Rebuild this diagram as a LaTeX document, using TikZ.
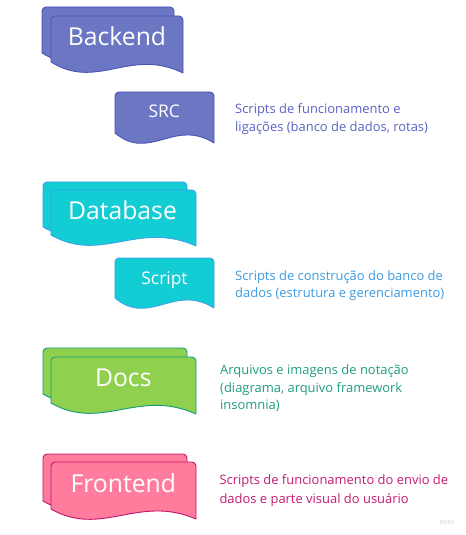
\documentclass[tikz,border=0pt]{standalone}
\usepackage{fontspec}
\setmainfont{Open Sans}

% fills, outlines and caption colours of the four groups
\definecolor{beFill}{HTML}{6C77C4}
\definecolor{beLine}{HTML}{4A52B8}
\definecolor{beText}{HTML}{5A62C6}
\definecolor{dbFill}{HTML}{13CDD4}
\definecolor{dbLine}{HTML}{3AA2EA}
\definecolor{dbText}{HTML}{3C9BE0}
\definecolor{dcFill}{HTML}{8FD14F}
\definecolor{dcLine}{HTML}{129B7D}
\definecolor{dcText}{HTML}{1E9E7E}
\definecolor{feFill}{HTML}{FF7C9D}
\definecolor{feLine}{HTML}{C6136D}
\definecolor{feText}{HTML}{C61A70}

% document shape with rounded top corners and a wavy bottom edge
% #1 left x, #2 top y, #3 width, #4 height of the left edge, #5 drop of the right end, #6 style
\newcommand\wavedoc[6]{%
  \path[#6] (#1,#2+#4) -- (#1,#2+4)
    arc[start angle=180,end angle=270,radius=4]
    -- (#1+#3-4,#2)
    arc[start angle=270,end angle=360,radius=4]
    -- (#1+#3,#2+#4+#5)
    .. controls (#1+0.6*#3,#2+#4-15) and (#1+0.35*#3,#2+#4+29) .. (#1,#2+#4)
    -- cycle;}

\tikzset{
  shapeline/.style={line width=0.9bp, line join=round},
  bigtitle/.style={text=white, inner sep=0, anchor=base,
    font=\fontsize{24.8}{30}\selectfont},
  smalltitle/.style={text=white, inner sep=0, anchor=base,
    font=\fontsize{17.5}{21}\selectfont},
  caption/.style={inner sep=0, anchor=north west, align=left,
    font=\fontsize{13}{17.6}\selectfont},
  watermark/.style={inner sep=0, anchor=base, text=black!20,
    font=\fontsize{6.5}{8}\selectfont},
}

\begin{document}
\begin{tikzpicture}[x=1bp,y=-1bp]
\useasboundingbox[fill=white] (0,0) rectangle (466,535);

% Backend
\wavedoc{42}{7}{132}{46}{11}{shapeline, fill=beFill, draw=beLine}
\wavedoc{51}{16}{132}{46}{11}{shapeline, fill=beFill, draw=beLine}
\node[bigtitle] (backend) at (117,46) {Backend};
\wavedoc{115}{92}{99}{41}{10}{shapeline, fill=beFill, draw=beLine}
\node[smalltitle] (src) at (164.3,117.3) {SRC};
\node[caption, text=beText] (srcnote) at (235,103.6)
  {Scripts de funcionamento e\\ligações (banco de dados, rotas)};

% Database
\wavedoc{43}{182}{144}{45}{11}{shapeline, fill=dbFill, draw=dbLine}
\wavedoc{51}{190}{145}{45}{11}{shapeline, fill=dbFill, draw=dbLine}
\node[bigtitle] (database) at (122.5,219.3) {Database};
\wavedoc{115}{258}{99}{40}{10}{shapeline, fill=dbFill, draw=dbLine}
\node[smalltitle] (script) at (164.5,284.3) {Script};
\node[caption, text=dbText] (scriptnote) at (235,270.2)
  {Scripts de construção do banco de\\dados (estrutura e gerenciamento)};

% Docs
\wavedoc{43}{348}{144}{46}{11}{shapeline, fill=dcFill, draw=dcLine}
\wavedoc{51}{357}{145}{46}{11}{shapeline, fill=dcFill, draw=dcLine}
\node[bigtitle] (docs) at (123.3,386) {Docs};
\node[caption, text=dcText] (docsnote) at (220,364.5)
  {Arquivos e imagens de notação\\(diagrama, arquivo framework\\insomnia)};

% Frontend
\wavedoc{43}{454}{144}{47}{10}{shapeline, fill=feFill, draw=feLine}
\wavedoc{51}{462}{145}{47}{10}{shapeline, fill=feFill, draw=feLine}
\node[bigtitle] (frontend) at (123.3,492.7) {Frontend};
\node[caption, text=feText, font=\fontsize{13}{19}\selectfont] (frontnote) at (219.3,474.4)
  {Scripts de funcionamento do envio de\\dados e parte visual do usuário};

\node[watermark] (mark) at (447,524) {miro};
\end{tikzpicture}
\end{document}
